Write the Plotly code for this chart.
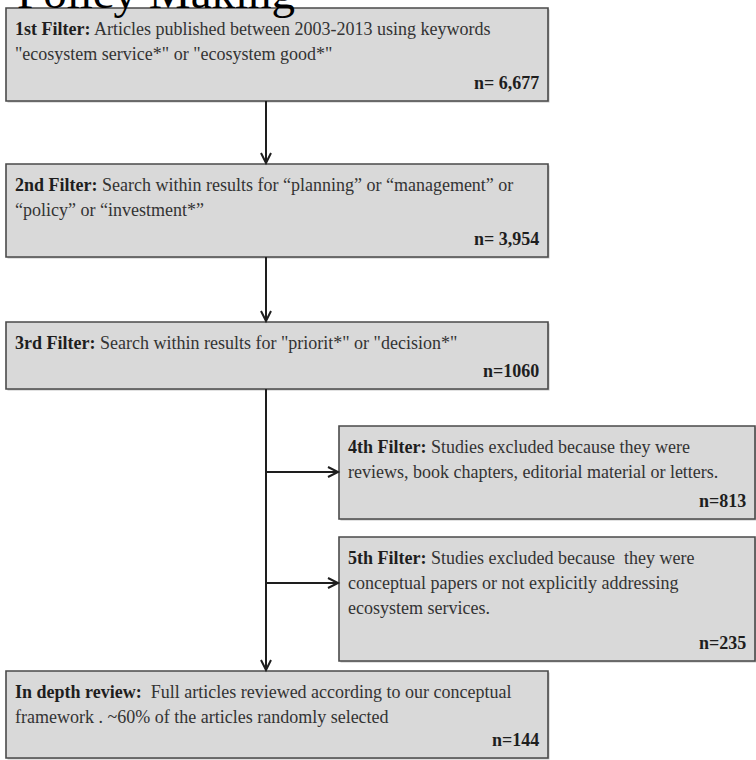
import plotly.graph_objects as go

# ---------------- data ----------------
title_text = "Policy Making"
box_heads = ["1st Filter:", "2nd Filter:", "3rd Filter:", "4th Filter:", "5th Filter:", "In depth review:"]
box_lines = [
    [" Articles published between 2003-2013 using keywords", "\"ecosystem service*\" or \"ecosystem good*\""],
    [" Search within results for \u201cplanning\u201d or \u201cmanagement\u201d or", "\u201cpolicy\u201d or \u201cinvestment*\u201d"],
    [" Search within results for \"priorit*\" or \"decision*\""],
    [" Studies excluded because they were", "reviews, book chapters, editorial material or letters."],
    [" Studies excluded because  they were", "conceptual papers or not explicitly addressing", "ecosystem services."],
    ["  Full articles reviewed according to our conceptual", "framework . ~60% of the articles randomly selected"],
]
count_labels = ["n= 6,677", "n= 3,954", "n=1060", "n=813", "n=235", "n=144"]

# ---------------- layout (pixel space) ----------------
W, H = 756, 760
boxes = [  # x0, x1, y0, y1
    (6, 548, 8, 101),
    (6, 548, 164, 257),
    (6, 548, 322, 389),
    (339, 755, 426, 519),
    (339, 755, 537, 661),
    (6, 548, 671, 758),
]
line_offset = 21
line_step = 25
count_offset = 18
trunk_x = 266
branch_y = [472, 583]

FONT = "Liberation Serif"
TXT = "#333333"
fs = 18

fig = go.Figure()
fig.add_trace(go.Scatter(x=[0, W], y=[0, H], mode="markers", marker=dict(opacity=0), hoverinfo="skip", showlegend=False))

shapes = []
annos = []
for i, (x0, x1, y0, y1) in enumerate(boxes):
    shapes.append(dict(type="rect", x0=x0 + 1.5, x1=x1 + 1.5, y0=y0 + 1.5, y1=y1 + 1.5,
                       fillcolor="#c4c4c4", line=dict(width=0), layer="below"))
    shapes.append(dict(type="rect", x0=x0, x1=x1, y0=y0, y1=y1,
                       fillcolor="#d9d9d9", line=dict(color="#4a4a4a", width=1.6), layer="below"))
    for j, ln in enumerate(box_lines[i]):
        txt = ln
        if j == 0:
            txt = "<span style='color:#1e1e1e'><b>" + box_heads[i] + "</b></span>" + ln
        annos.append(dict(x=x0 + 7, y=y0 + line_offset + j * line_step, text=txt, showarrow=False,
                          xanchor="left", yanchor="middle",
                          font=dict(family=FONT, size=fs, color=TXT)))
    annos.append(dict(x=x1 - 7, y=y1 - count_offset, text="<b>" + count_labels[i] + "</b>", showarrow=False,
                      xanchor="right", yanchor="middle",
                      font=dict(family=FONT, size=fs, color="#1e1e1e")))

LC = "#1e1e1e"
LW = 2


def vline(x, ya, yb):
    shapes.append(dict(type="line", x0=x, x1=x, y0=ya, y1=yb, line=dict(color=LC, width=LW)))


def head_down(x, y):
    shapes.append(dict(type="path", path=f"M {x-5},{y-10} L {x},{y} L {x+5},{y-10}",
                       line=dict(color=LC, width=LW)))


def head_right(x, y):
    shapes.append(dict(type="path", path=f"M {x-10},{y-5} L {x},{y} L {x-10},{y+5}",
                       line=dict(color=LC, width=LW)))


vline(trunk_x, boxes[0][3], boxes[1][2] - 1)
head_down(trunk_x, boxes[1][2] - 1)
vline(trunk_x, boxes[1][3], boxes[2][2] - 1)
head_down(trunk_x, boxes[2][2] - 1)
vline(trunk_x, boxes[2][3], boxes[5][2] - 1)
head_down(trunk_x, boxes[5][2] - 1)
for by, bi in zip(branch_y, [3, 4]):
    bx = boxes[bi][0] - 1
    shapes.append(dict(type="line", x0=trunk_x, x1=bx, y0=by, y1=by, line=dict(color=LC, width=LW)))
    head_right(bx, by)

annos.append(dict(x=15, y=20, text=title_text, showarrow=False, xanchor="left", yanchor="bottom",
                  font=dict(family=FONT, size=47, color="#000")))

fig.update_layout(
    width=W, height=H, margin=dict(l=0, r=0, t=0, b=0),
    paper_bgcolor="white", plot_bgcolor="white",
    xaxis=dict(range=[0, W], visible=False, fixedrange=True),
    yaxis=dict(range=[H, 0], visible=False, fixedrange=True),
    shapes=shapes, annotations=annos, showlegend=False,
)
fig.write_html("out.html", config={"displayModeBar": False},
               post_script="document.body.style.margin='0';document.body.style.overflow='hidden';")
